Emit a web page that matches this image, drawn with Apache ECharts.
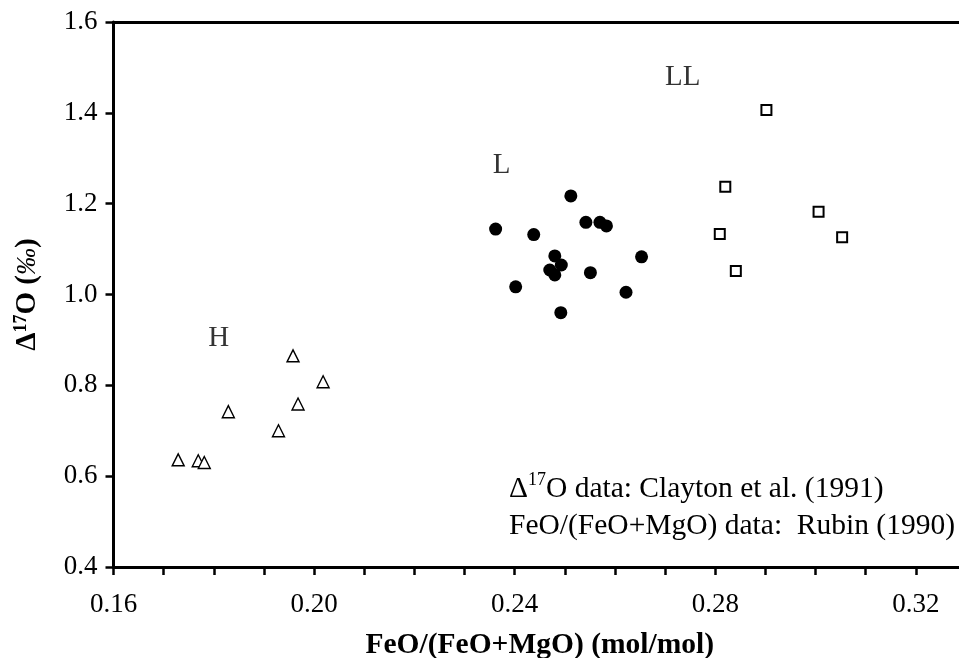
<!DOCTYPE html>
<html>
<head>
<meta charset="utf-8">
<script src="https://cdn.jsdelivr.net/npm/echarts@6/dist/echarts.min.js"></script>
<style>
  html, body { margin: 0; padding: 0; background: #fff; }
  #chart { width: 959px; height: 658px; }
</style>
</head>
<body>
<div id="chart"></div>
<script>
// H chondrites (open triangles)
var hX = [0.1729, 0.1769, 0.1781, 0.1829, 0.1929, 0.1958, 0.1968, 0.2018]
var hY = [0.636, 0.634, 0.630, 0.742, 0.700, 0.865, 0.759, 0.808]
// L chondrites (filled circles)
var lX = [0.2362, 0.2438, 0.2512, 0.2542, 0.2570, 0.2583, 0.2480, 0.2493, 0.2470, 0.2480, 0.2551, 0.2653, 0.2402, 0.2622, 0.2492]
var lY = [1.144, 1.132, 1.217, 1.159, 1.159, 1.151, 1.085, 1.065, 1.054, 1.043, 1.048, 1.083, 1.017, 1.005, 0.960]
// LL chondrites (open squares)
var llX = [0.2902, 0.2820, 0.3006, 0.2809, 0.3053, 0.2841]
var llY = [1.406, 1.237, 1.182, 1.133, 1.126, 1.052]
// group names and where they sit
var groupNames = ['H', 'L', 'LL']
var groupX = [0.1810, 0.2374, 0.2735]
var groupY = [0.904, 1.285, 1.479]

var serif = 'Liberation Serif'

function pairs(xs, ys) {
  var out = []
  for (var i = 0; i < xs.length; i++) {
    out.push([xs[i], ys[i]])
  }
  return out
}

var chart = echarts.init(document.getElementById('chart'))
chart.setOption({
  animation: false,
  backgroundColor: '#fff',
  grid: {
    left: 113.5,
    top: 22,
    bottom: 91,
    right: -7,
    containLabel: false,
    outerBoundsMode: 'none'
  },
  xAxis: [
    {
      type: 'value',
      min: 0.16,
      max: 0.33,
      interval: 0.01,
      name: 'FeO/(FeO+MgO) (mol/mol)',
      nameLocation: 'middle',
      nameGap: 63,
      nameTextStyle: { fontFamily: serif, fontWeight: 'bold', fontSize: 29.5, color: '#000' },
      axisLine: { show: true, onZero: false, lineStyle: { color: '#000', width: 3 } },
      axisTick: { show: true, inside: false, length: 8, lineStyle: { color: '#000', width: 2.5 } },
      splitLine: { show: false },
      axisLabel: {
        margin: 24,
        fontFamily: serif,
        fontSize: 27,
        color: '#000',
        formatter: function(v) {
          var k = Math.round(v / 0.04)
          if (Math.abs(k * 0.04 - v) < 1e-6) {
            return v.toFixed(2)
          }
          return ''
        }
      }
    },
    {
      // top border line only
      type: 'value',
      position: 'top',
      min: 0.16,
      max: 0.33,
      axisLine: { show: true, onZero: false, lineStyle: { color: '#000', width: 3 } },
      axisTick: { show: false },
      axisLabel: { show: false },
      splitLine: { show: false }
    }
  ],
  yAxis: {
    type: 'value',
    min: 0.4,
    max: 1.6,
    interval: 0.2,
    name: '{b|Δ}{sup|17}{b|O (}{i|‰}{b|)}',
    nameLocation: 'middle',
    nameRotate: 90,
    nameGap: 71,
    nameTextStyle: {
      color: '#000',
      rich: {
        b: { fontFamily: serif, fontWeight: 'bold', fontSize: 29, lineHeight: 30, color: '#000' },
        sup: { fontFamily: serif, fontWeight: 'bold', fontSize: 18, lineHeight: 30, verticalAlign: 'top', color: '#000' },
        i: { fontFamily: serif, fontStyle: 'italic', fontSize: 27, lineHeight: 30, color: '#000' }
      }
    },
    axisLine: { show: true, onZero: false, lineStyle: { color: '#000', width: 3 } },
    axisTick: { show: true, inside: false, length: 8, lineStyle: { color: '#000', width: 2.5 } },
    splitLine: { show: false },
    axisLabel: {
      margin: 16,
      fontFamily: serif,
      fontSize: 27,
      color: '#000',
      formatter: function(v) { return v.toFixed(1) }
    }
  },
  series: [
    {
      name: 'H',
      type: 'scatter',
      symbol: 'triangle',
      symbolSize: 12,
      itemStyle: { color: '#fff', borderColor: '#000', borderWidth: 1.4, opacity: 1 },
      data: pairs(hX, hY)
    },
    {
      name: 'L',
      type: 'scatter',
      symbol: 'circle',
      symbolSize: 13,
      itemStyle: { color: '#000', opacity: 1 },
      data: pairs(lX, lY)
    },
    {
      name: 'LL',
      type: 'scatter',
      symbol: 'rect',
      symbolSize: 10,
      itemStyle: { color: '#fff', borderColor: '#000', borderWidth: 2, opacity: 1 },
      data: pairs(llX, llY)
    },
    {
      // group labels
      type: 'scatter',
      symbolSize: 0,
      silent: true,
      label: {
        show: true,
        position: 'inside',
        fontFamily: serif,
        fontSize: 29,
        color: '#000',
        textBorderWidth: 0,
        formatter: function(p) { return groupNames[p.dataIndex] }
      },
      data: pairs(groupX, groupY)
    }
  ],
  graphic: [
    {
      type: 'text',
      left: 509,
      top: 471,
      style: {
        text: '{a|Δ}{s|17}{a|O data: Clayton et al. (1991)}\n{a|FeO/(FeO+MgO) data:  Rubin (1990)}',
        fill: '#000',
        rich: {
          a: { fontFamily: serif, fontSize: 29.5, lineHeight: 37, fill: '#000' },
          s: { fontFamily: serif, fontSize: 18, lineHeight: 37, verticalAlign: 'top', fill: '#000' }
        }
      }
    }
  ]
})
</script>
</body>
</html>
